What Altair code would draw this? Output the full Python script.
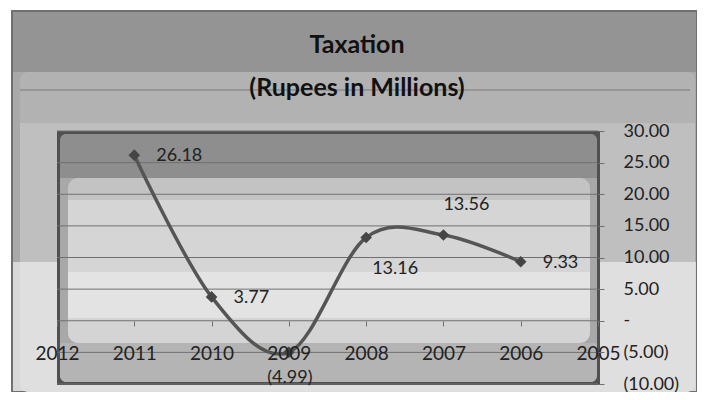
import altair as alt
import pandas as pd

# ---- data ----
years = [2011, 2010, 2009, 2008, 2007, 2006]
taxation = [26.18, 3.77, -4.99, 13.16, 13.56, 9.33]
axis_years = [2012, 2011, 2010, 2009, 2008, 2007, 2006, 2005]
y_ticks = [-10, -5, 0, 5, 10, 15, 20, 25, 30]
title_text = "Taxation"
subtitle_text = "(Rupees in Millions)"

# label placement groups (style)
right_label_years = [2011, 2010, 2006]
below_right_years = [2008]
above_right_years = [2007]
below_years = [2009]

df = pd.DataFrame({"year": years, "value": taxation})
grid_df = pd.DataFrame({"value": y_ticks})
one = pd.DataFrame({"k": [0]})

W, H = 541, 253
FONT = "Lato"
TXT = "#222222"


def grad(bands):
    stops = []
    for color, a, b in bands:
        stops.append(alt.GradientStop(color=color, offset=a))
        stops.append(alt.GradientStop(color=color, offset=b))
    return alt.LinearGradient(gradient="linear", stops=stops, x1=0, x2=0, y1=0, y2=1)


def deco(x, x2, y, y2, fill, **kw):
    return alt.Chart(one).mark_rect(fill=fill, **kw).encode(
        x=alt.value(x), x2=alt.value(x2), y=alt.value(y), y2=alt.value(y2)
    )


label_expr = ("datum.value == 0 ? '-' : datum.value < 0 ? '(' + format(-datum.value, '.2f') + ')' "
              ": format(datum.value, '.2f')")

x_enc = alt.X(
    "year:Q",
    scale=alt.Scale(domain=[2005, 2012], reverse=True, nice=False, zero=False),
    axis=alt.Axis(values=axis_years, format="d", title=None, grid=False, domain=False,
                  ticks=True, tickSize=5, tickColor="#707070", offset=-63,
                  labelFont=FONT, labelFontSize=19, labelColor=TXT, labelPadding=18,
                  labelFlush=False, labelOverlap=False, zindex=1),
)
y_enc = alt.Y(
    "value:Q",
    scale=alt.Scale(domain=[-10, 30], nice=False, zero=False),
    axis=alt.Axis(values=y_ticks, orient="right", title=None, grid=False, domain=False,
                  ticks=True, tickSize=6, tickColor="#707070", labelExpr=label_expr,
                  labelAlign="left", labelFont=FONT, labelFontSize=18, labelColor=TXT,
                  labelPadding=19, labelOverlap=False, zindex=1),
)

# ---- decorative background ----
frame = deco(-45, 640, -120, 261,
             grad([("#949494", 0, 0.16), ("#a9a9a9", 0.16, 0.659), ("#d8d8d8", 0.659, 1)]),
             stroke="#707070", strokeWidth=2)
band = deco(-37, 638, -59, 261,
            grad([("#b2b2b2", 0, 0.159), ("#bfbfbf", 0.159, 0.594), ("#dfdfdf", 0.594, 1)]),
            cornerRadius=8)
band_line = alt.Chart(one).mark_rule(color="#8c8c8c", strokeWidth=1.5).encode(
    x=alt.value(-37), x2=alt.value(633), y=alt.value(-41))
plot_border = deco(0, 543, 0, 254, "#505050")
plot_inner = deco(3, 540, 3, 251,
                  grad([("#8e8e8e", 0, 0.177), ("#a8a8a8", 0.177, 0.843), ("#b4b4b4", 0.843, 1)]),
                  cornerRadius=6)
plot_light = deco(11, 533, 47, 212,
                  grad([("#c3c3c3", 0, 0.133), ("#d5d5d5", 0.133, 0.57),
                        ("#e3e3e3", 0.57, 0.85), ("#d4d4d4", 0.85, 1)]),
                  cornerRadius=10)

# ---- titles (text marks, drawn inside the decorated frame) ----
title = alt.Chart(one).mark_text(
    text=title_text, font=FONT, fontSize=25, fontWeight="bold", color="#111111",
    align="center", baseline="middle"
).encode(x=alt.value(300), y=alt.value(-86))
subtitle = alt.Chart(one).mark_text(
    text=subtitle_text, font=FONT, fontSize=25, fontWeight="bold", color="#111111",
    align="center", baseline="middle"
).encode(x=alt.value(300), y=alt.value(-43))

# ---- gridlines ----
grid = alt.Chart(grid_df).mark_rule(color="#707070", strokeWidth=1).encode(y=y_enc)

# ---- series ----
base = alt.Chart(df).encode(x=x_enc, y=y_enc)
line = base.mark_line(interpolate="cardinal", color="#555555", strokeWidth=3.5)
pts = base.mark_point(shape="diamond", filled=True, size=135, color="#454545", opacity=1)

lab = base.transform_calculate(
    label="datum.value < 0 ? '(' + format(-datum.value, '.2f') + ')' : format(datum.value, '.2f')"
)


def labels(yrs, **kw):
    return lab.transform_filter(alt.FieldOneOfPredicate(field="year", oneOf=yrs)).mark_text(
        font=FONT, fontSize=18, color=TXT, baseline="middle", **kw
    ).encode(text="label:N")


t_right = labels(right_label_years, align="left", dx=22, dy=1)
t_below_right = labels(below_right_years, align="center", dx=29, dy=31)
t_above_right = labels(above_right_years, align="center", dx=23, dy=-30)
t_below = labels(below_years, align="center", dx=1, dy=26)

chart = alt.layer(
    frame, band, band_line, title, subtitle, plot_border, plot_inner, plot_light,
    grid, line, pts, t_right, t_below_right, t_above_right, t_below
).properties(
    width=W, height=H,
    autosize="none",
    padding={"left": 49, "top": 123, "right": 99, "bottom": 8},
    background="white",
).configure_view(strokeWidth=0)

chart.save("out.html", embed_options={"renderer": "svg", "actions": False})
